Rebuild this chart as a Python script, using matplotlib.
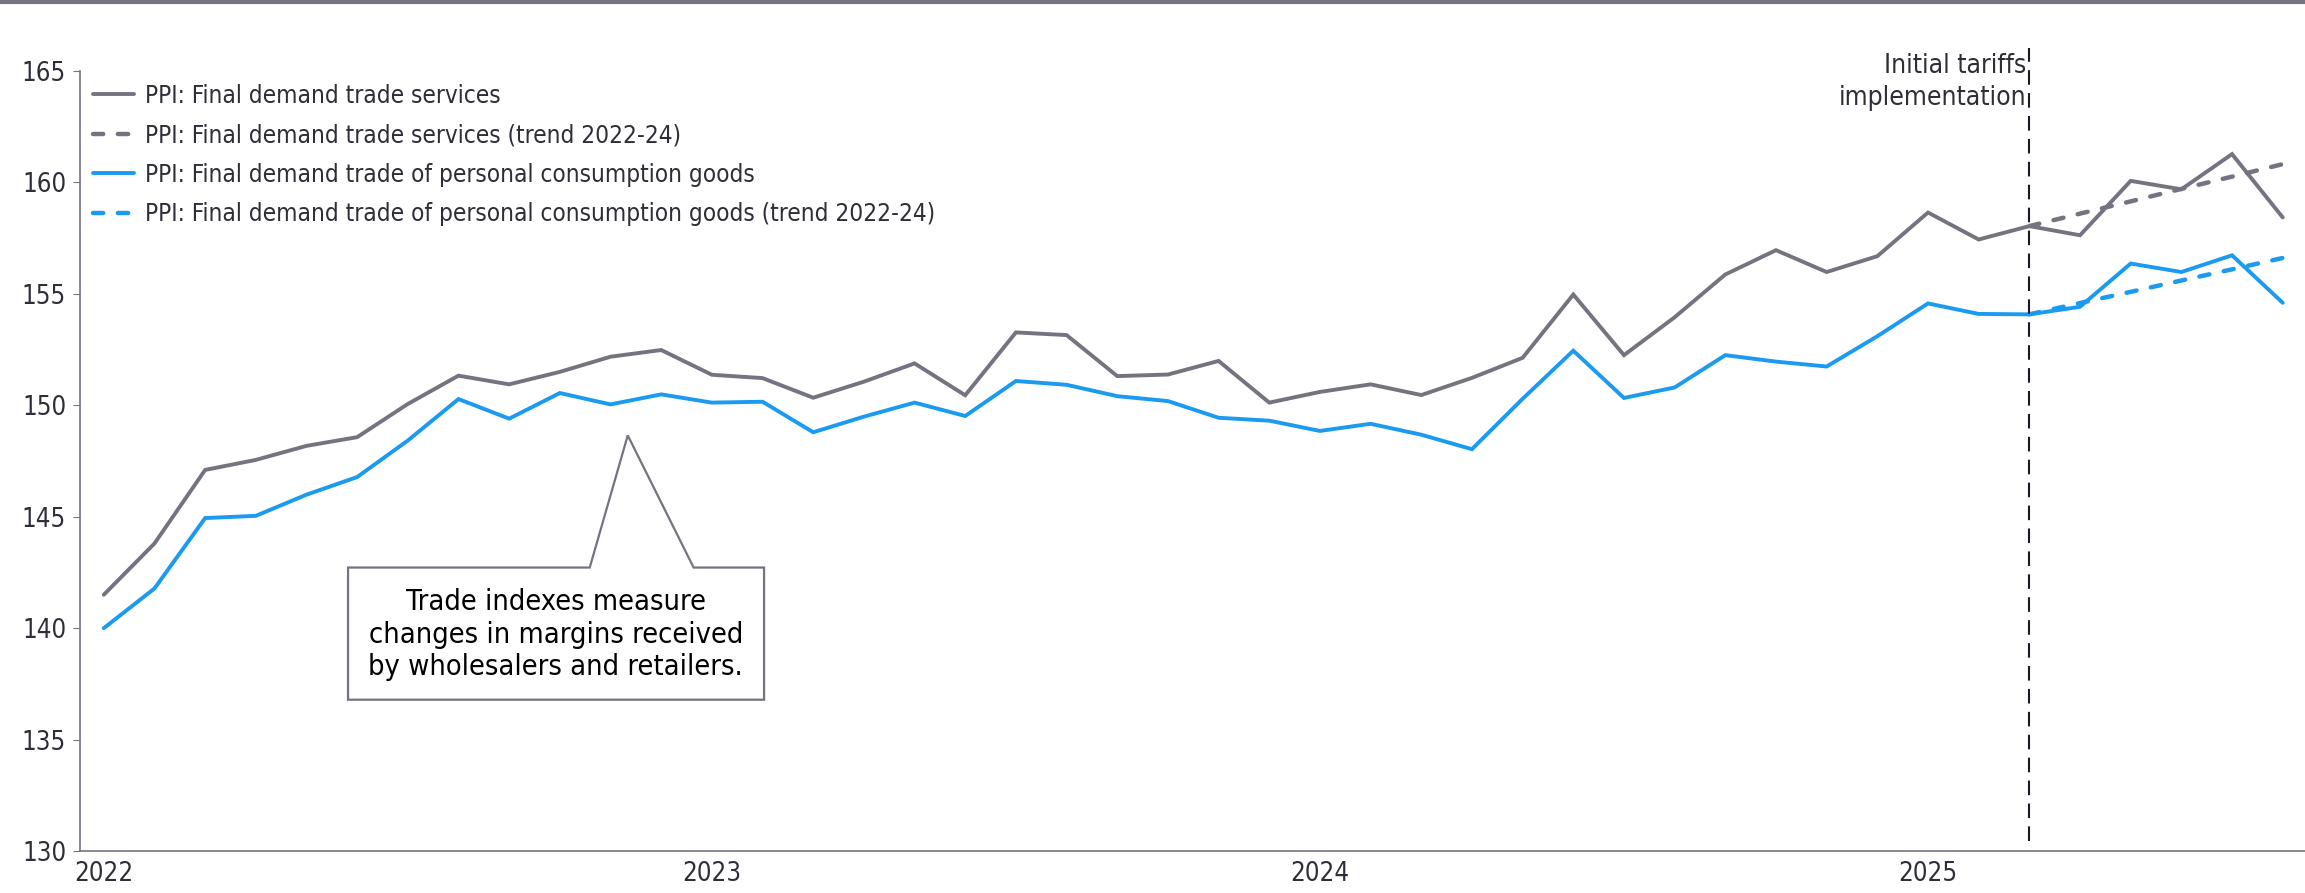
import matplotlib
matplotlib.use("Agg")
import matplotlib.pyplot as plt
from matplotlib.patches import Polygon

plt.rcParams['font.family'] = ['DejaVu Sans']
plt.rcParams['font.stretch'] = 'condensed'

# monthly index, Jan 2022 .. Aug 2025
years = ["2022", "2023", "2024", "2025"]
trade_services = [
    141.5, 143.8, 147.1, 147.55, 148.18, 148.57, 150.06, 151.33, 150.94, 151.5, 152.18, 152.48,
    151.37, 151.22, 150.34, 151.06, 151.88, 150.45, 153.27, 153.15, 151.31, 151.38, 151.99, 150.12,
    150.6, 150.94, 150.46, 151.23, 152.13, 154.97, 152.25, 153.95, 155.87, 156.96, 155.98, 156.69,
    158.65, 157.44, 158.04, 157.63, 160.07, 159.69, 161.27, 158.43,
]
consumption_goods = [
    140.0, 141.78, 144.94, 145.04, 145.99, 146.78, 148.42, 150.28, 149.4, 150.55, 150.04, 150.49,
    150.12, 150.16, 148.79, 149.49, 150.12, 149.52, 151.09, 150.92, 150.41, 150.19, 149.44, 149.31,
    148.85, 149.17, 148.68, 148.03, 150.29, 152.45, 150.33, 150.8, 152.25, 151.96, 151.74, 153.1,
    154.57, 154.1, 154.08, 154.42, 156.36, 155.98, 156.73, 154.6,
]
# 2022-24 trends, Mar 2025 .. Aug 2025
trend_months = [38, 39, 40, 41, 42, 43]
services_trend = [158.04, 158.6, 159.15, 159.71, 160.26, 160.82]
goods_trend = [154.08, 154.59, 155.09, 155.6, 156.1, 156.61]
tariff_month = 38

GRAY = "#747480"
BLUE = "#1a9af0"
TXT = "#2e2e38"

months = list(range(len(trade_services)))

fig = plt.figure(figsize=(23.05, 8.93), dpi=100)
ax = fig.add_axes([0.0347, 0.047, 0.9653, 0.8735])

solid = dict(lw=2.8, solid_capstyle="round", solid_joinstyle="miter")
dashed = dict(lw=3.2, ls=(0, (2.3, 3.3)), dash_capstyle="round")
ax.plot(months, trade_services, color=GRAY, label="PPI: Final demand trade services", **solid)
ax.plot(trend_months, services_trend, color=GRAY,
        label="PPI: Final demand trade services (trend 2022-24)", **dashed)
ax.plot(months, consumption_goods, color=BLUE,
        label="PPI: Final demand trade of personal consumption goods", **solid)
ax.plot(trend_months, goods_trend, color=BLUE,
        label="PPI: Final demand trade of personal consumption goods (trend 2022-24)", **dashed)

ax.axvline(tariff_month, ymin=0.013, ymax=1.03, color="#1a1a24", lw=1.5, ls=(0, (7, 4)), clip_on=False)
ax.text(tariff_month - 0.06, 165.8, "Initial tariffs\nimplementation", ha="right", va="top",
        fontsize=19, color=TXT, linespacing=1.3)

# callout box
callout = [(4.82, 142.72), (9.59, 142.72), (10.34, 148.65), (11.64, 142.72), (13.03, 142.72),
           (13.03, 136.79), (4.82, 136.79)]
ax.add_patch(Polygon(callout, closed=True, facecolor="white", edgecolor=GRAY, lw=1.6, zorder=5))
ax.text(8.92, 139.7, "Trade indexes measure\nchanges in margins received\nby wholesalers and retailers.",
        ha="center", va="center", fontsize=20.8, color="black", linespacing=1.2, zorder=6)

ax.set_ylim(130, 165)
ax.set_xlim(-0.47, 43.44)
ax.set_yticks([130, 135, 140, 145, 150, 155, 160, 165])
ax.set_xticks([0, 12, 24, 36])
ax.set_xticklabels(years)
ax.tick_params(axis="y", length=5, color=GRAY, labelsize=18.5, labelcolor=TXT, pad=5)
ax.tick_params(axis="x", length=0, labelsize=18.5, labelcolor=TXT, pad=7)
for side in ["top", "right"]:
    ax.spines[side].set_visible(False)
for side in ["left", "bottom"]:
    ax.spines[side].set_color(GRAY)
    ax.spines[side].set_linewidth(1.2)

ax.legend(loc="upper left", bbox_to_anchor=(-0.004, 1.012), frameon=False, fontsize=17.5,
          labelcolor=TXT, handlelength=1.7, handletextpad=0.45, labelspacing=0.64)

fig.add_artist(plt.Line2D([0, 1], [0.998, 0.998], color=GRAY, lw=3, transform=fig.transFigure))

fig.savefig("out.png", dpi=100)
